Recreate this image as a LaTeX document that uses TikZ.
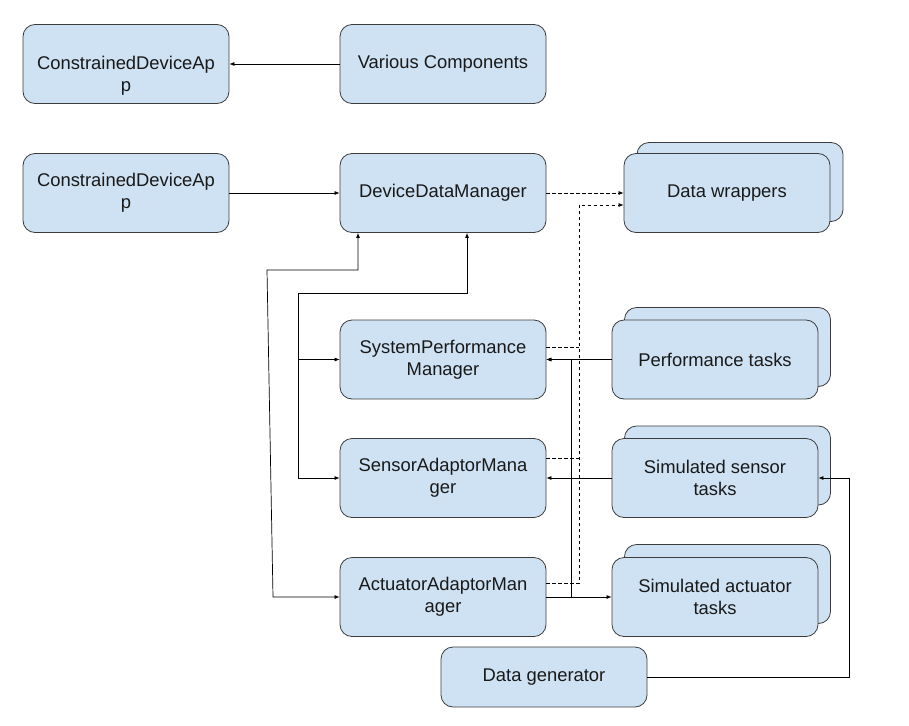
\documentclass[tikz,border=0pt]{standalone}
\usepackage{fontspec}
\setmainfont{Liberation Sans}
\usetikzlibrary{arrows.meta}
\definecolor{boxblue}{HTML}{CFE2F3}
\definecolor{boxline}{HTML}{3C3C3C}
\begin{document}
\begin{tikzpicture}[x=1pt, y=-1pt,
    >={Latex[length=5pt,width=4pt]},
    box/.style={draw=boxline, line width=0.8pt, fill=boxblue, rounded corners=12pt,
      minimum width=206pt, minimum height=79pt, inner sep=0pt, align=center,
      font=\fontsize{18.4}{21.8}\selectfont, text=black!90},
    link/.style={line width=0.7pt, ->},
    dlink/.style={line width=0.7pt, dashed, dash pattern=on 3.5pt off 2.5pt}]
      \useasboundingbox (0, 0) rectangle (909, 725);

      \node[box, label={[align=center, yshift=-12pt, text=black!90, font=\fontsize{18.4}{21.8}\selectfont]center:ConstrainedDeviceAp\\p}] (cdaA) at (126, 64) {};
      \node[box] (various) at (443, 64) {Various Components};

      \node[box] (cdaB) at (126, 193) {ConstrainedDeviceAp\\p};
      \node[box] (ddm) at (443, 193) {DeviceDataManager};
      \node[box] (wrapB) at (740, 182) {};
      \node[box] (wrap) at (727, 193) {Data wrappers};

      \node[box] (spm) at (443, 359.5) {SystemPerformance\\Manager};
      \node[box] (perfB) at (727.5, 347) {};
      \node[box] (perf) at (715, 359.5) {Performance tasks};

      \node[box] (sam) at (443, 478) {SensorAdaptorMana\\ger};
      \node[box] (sensB) at (727.5, 465.5) {};
      \node[box] (sens) at (715, 478) {Simulated sensor\\tasks};

      \node[box] (aam) at (443, 597) {ActuatorAdaptorMan\\ager};
      \node[box] (actB) at (727.5, 584) {};
      \node[box] (act) at (715, 597) {Simulated actuator\\tasks};

      \node[box, minimum height=60pt] (gen) at (544, 677) {Data generator};

      \draw[link] (various.west) -- (cdaA.east);
      \draw[link] (cdaB.east) -- (ddm.west);
      \draw[dlink, ->] (ddm.east) -- (wrap.west);

      \path (579, 205) coordinate (dtop);
      \path (579, 583.5) coordinate (dbot);
      \draw[dlink, ->] ([yshift=13.5pt]aam.east) -- (dbot) -- (dtop) -- (wrap.west |- dtop);
      \draw[dlink] ([yshift=12.5pt]spm.east) -- +(33, 0);
      \draw[dlink] ([yshift=20pt]sam.east) -- +(33, 0);

      \path (571, 597) coordinate (abus);
      \draw[link] (perf.west) -- (spm.east);
      \draw[link] (aam.east) -- (act.west);
      \draw[link] (abus) |- (spm.east);
      \draw[link] (sens.west) -- (sam.east);

      \path (849, 478) coordinate (gbus);
      \draw[link] (gen.east) -| (gbus) -- (sens.east);

      \path (267, 270) coordinate (ltop);
      \path (273, 597) coordinate (lbot);
      \draw[link, <->] ([xshift=-85pt]ddm.south) |- (ltop) -- (lbot) -- (aam.west);

      \path (298, 293) coordinate (mtop);
      \path (298, 478) coordinate (mbot);
      \draw[link, <->] ([xshift=24pt]ddm.south) |- (mtop) -- (mbot) -- (sam.west);
      \draw[link] (mtop |- spm.west) -- (spm.west);
    \end{tikzpicture}
\end{document}
